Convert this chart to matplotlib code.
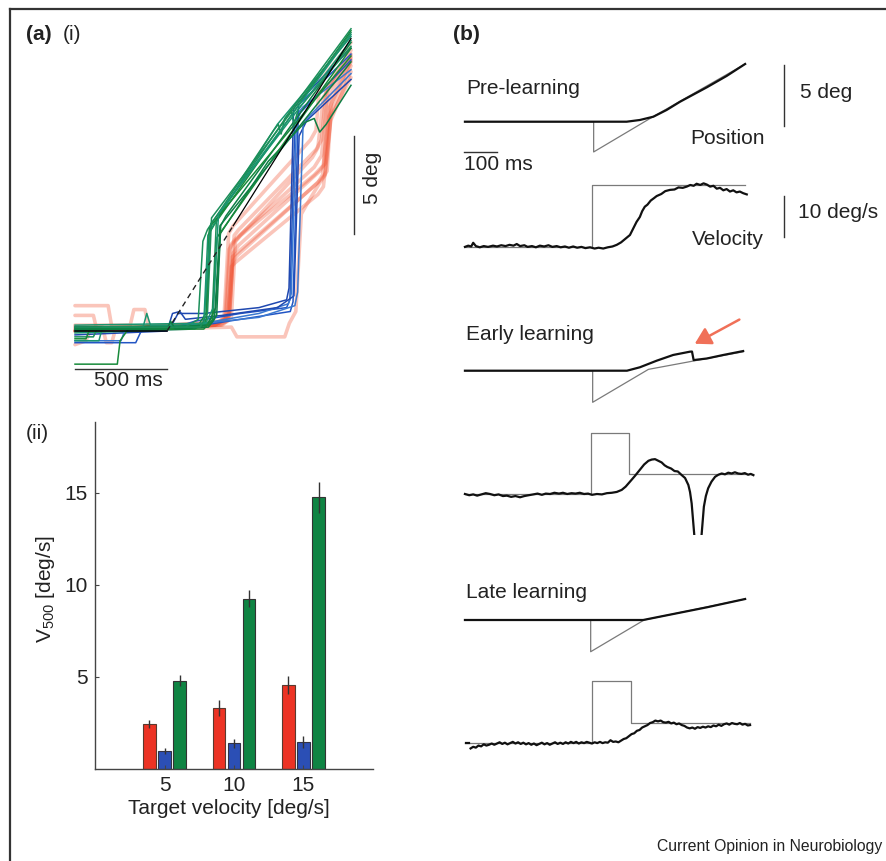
import matplotlib
matplotlib.use("Agg")
import matplotlib.pyplot as plt
from matplotlib.lines import Line2D
from matplotlib.patches import FancyArrowPatch

plt.rcParams['font.family'] = ['Liberation Sans', 'DejaVu Sans']

# ---------------- DATA ----------------
# (a)(ii) bar chart
target_velocity = [5, 10, 15]
v500_red = [2.45, 3.3, 4.55]
v500_red_err = [0.2, 0.43, 0.5]
v500_blue = [0.98, 1.4, 1.45]
v500_blue_err = [0.18, 0.25, 0.32]
v500_green = [4.8, 9.25, 14.75]
v500_green_err = [0.3, 0.45, 0.83]
bar_yticks = [5, 10, 15]

# (a)(i) position traces: (time ms, position deg)
target_a = [(0, 0.0), (500, 0.0), (1500, 15.0)]
target_a_dash_end = 860

red_traces = [
    [(0, 0.0), (760, 0.3), (820, 0.6), (845, 4.4), (870, 4.7), (1300, 8.4), (1340, 9.0), (1375, 12.5), (1500, 14.4)],
    [(0, 1.3), (180, 1.3), (200, 0.2), (780, 0.4), (830, 0.7), (855, 3.8), (880, 4.0), (1320, 7.6), (1345, 8.0), (1385, 11.5), (1500, 13.8)],
    [(0, 0.8), (100, 0.8), (120, 0.0), (790, 0.5), (840, 0.9), (865, 4.9), (890, 5.2), (1310, 9.3), (1340, 9.8), (1365, 12.4), (1500, 14.2)],
    [(0, -0.7), (60, -0.5), (80, 0.0), (770, 0.3), (830, 0.5), (850, 3.3), (870, 3.5), (1320, 7.0), (1350, 7.4), (1390, 10.8), (1500, 13.3)],
    [(0, 0.3), (300, 0.3), (320, 1.1), (380, 1.1), (400, 0.2), (760, 0.3), (815, 0.6), (838, 4.2), (860, 4.5), (1290, 8.9), (1320, 9.4), (1350, 12.0), (1500, 14.0)],
    [(0, 0.0), (850, 0.2), (880, -0.3), (1140, -0.3), (1165, 0.4), (1200, 1.0), (1230, 6.0), (1260, 6.5), (1330, 7.6), (1360, 8.0), (1390, 11.0), (1500, 13.0)],
    [(0, 0.0), (780, 0.4), (840, 0.8), (860, 4.0), (890, 4.4), (1330, 8.2), (1360, 8.6), (1380, 11.0), (1500, 13.6)],
    [(0, 0.0), (760, 0.3), (810, 0.7), (835, 5.0), (860, 5.4), (1280, 9.8), (1310, 10.3), (1330, 12.8), (1500, 14.8)],
    [(0, 0.1), (800, 0.3), (850, 0.7), (872, 4.6), (900, 4.9), (1300, 8.0), (1350, 8.5), (1380, 12.0), (1500, 14.1)],
    [(0, 0.2), (150, 0.2), (170, -0.6), (200, -0.6), (220, 0.1), (790, 0.3), (835, 0.6), (858, 3.6), (885, 3.9), (1340, 7.8), (1370, 8.2), (1395, 11.8), (1500, 13.9)],
]

blue_traces = [
    [(0, -0.6), (330, -0.6), (360, 0.0), (520, 0.1), (650, 0.5), (900, 0.9), (1150, 1.2), (1168, 1.6), (1195, 10.6), (1225, 11.2), (1500, 13.9)],
    [(0, 0.0), (530, 0.2), (700, 0.4), (1000, 0.9), (1160, 1.4), (1175, 1.9), (1205, 11.1), (1240, 11.5), (1500, 13.4)],
    [(0, -0.2), (500, 0.0), (530, 0.9), (570, 1.0), (600, 0.6), (800, 0.8), (1100, 1.2), (1190, 1.8), (1218, 10.0), (1260, 10.8), (1500, 12.9)],
    [(0, 0.1), (560, 0.1), (900, 0.6), (1170, 1.0), (1185, 1.5), (1215, 11.6), (1500, 14.2)],
    [(0, -0.5), (250, -0.5), (270, 0.0), (600, 0.3), (1000, 0.7), (1195, 1.3), (1210, 2.0), (1240, 10.7), (1500, 13.2)],
    [(0, 0.2), (520, 0.2), (560, 0.9), (700, 0.9), (1000, 1.2), (1150, 1.6), (1163, 2.2), (1188, 11.4), (1220, 11.8), (1500, 14.5)],
]

green_traces = [
    [(0, 0.1), (690, 0.2), (715, 0.6), (735, 5.1), (760, 5.5), (1500, 15.4)],
    [(0, -0.1), (650, 0.1), (700, 0.4), (722, 4.9), (750, 5.4), (1100, 10.6), (1500, 15.1)],
    [(0, 0.2), (730, 0.3), (770, 0.8), (792, 5.4), (820, 5.9), (1500, 14.8)],
    [(0, -0.3), (100, -0.3), (120, 0.1), (700, 0.2), (745, 0.7), (768, 5.6), (800, 6.2), (1150, 11.0), (1175, 11.3), (1190, 10.6), (1215, 11.4), (1500, 14.6)],
    [(0, -1.7), (230, -1.7), (245, -0.5), (290, 0.1), (620, 0.1), (670, 0.3), (712, 0.9), (730, 5.3), (790, 6.0), (1500, 14.1)],
    [(0, -0.5), (130, -0.5), (150, 0.2), (370, 0.2), (390, 0.9), (410, 0.3), (700, 0.3), (738, 5.5), (1500, 14.9)],
    [(0, 0.0), (720, 0.3), (765, 1.2), (790, 5.0), (1050, 8.7), (1250, 10.7), (1300, 10.9), (1330, 10.2), (1365, 10.6), (1500, 12.6)],
    [(0, 0.1), (600, 0.2), (670, 0.6), (695, 4.6), (720, 5.2), (1080, 10.3), (1105, 10.6), (1120, 10.1), (1140, 10.9), (1500, 15.5)],
    [(0, -0.4), (60, -0.4), (80, 0.1), (700, 0.1), (748, 0.6), (772, 4.8), (1500, 14.5)],
    [(0, 0.3), (710, 0.4), (752, 1.2), (780, 6.0), (1500, 15.2)],
    [(0, 0.1), (500, 0.1), (520, 0.5), (545, 0.1), (725, 0.2), (758, 0.6), (788, 5.4), (1500, 13.8)],
    [(0, 0.2), (680, 0.2), (720, 0.9), (742, 5.8), (1500, 15.3)],
]
green_colors = ['#178a3a', '#1a9570', '#0e7f45', '#1c8f5a']
blue_colors = ['#2255c4', '#3a78d0', '#1f48b0']

# (b) traces: (time ms relative to target motion onset, value)
pre_pos_eye = [(-385, 0.0), (105, 0.0), (145, 0.14), (186, 0.41), (226, 0.96), (267, 1.64), (348, 2.82), (408, 3.75), (464, 4.73)]
pre_pos_target = [(-385, 0.0), (5, 0.0), (5, -2.48), (185, 0.41), (464, 4.73)]
pre_vel_eye = [(-385, 0.1), (-375, 0.4), (-366, 0.2), (-360, 1.1), (-352, 0.3), (-340, 0.0), (-328, 0.3), (-315, 0.1),
               (-300, 0.4), (-288, 0.2), (-275, 0.5), (-262, 0.3), (-250, 0.6), (-238, 0.4), (-228, 0.8), (-218, 0.3),
               (-205, 0.5), (-195, 0.1), (-182, 0.3), (-170, 0.0), (-158, 0.4), (-145, 0.2), (-132, 0.5), (-120, 0.1),
               (-107, 0.3), (-95, 0.0), (-82, 0.2), (-70, -0.1), (-57, 0.2), (-45, -0.1), (-32, 0.1), (-20, -0.2),
               (-6, 0.0), (8, -0.3), (20, -0.1), (34, -0.3), (48, 0.0), (62, 0.2), (75, 0.6), (88, 1.2), (100, 2.0),
               (115, 3.0), (125, 4.6), (135, 6.2), (145, 7.4), (152, 8.8), (160, 9.9), (168, 10.4), (178, 11.4),
               (188, 12.0), (196, 12.5), (210, 13.0), (222, 13.7), (236, 14.0), (250, 14.1), (262, 14.6), (275, 14.5),
               (287, 14.8), (298, 15.2), (308, 15.0), (317, 15.5), (328, 15.2), (338, 15.6), (348, 15.3), (358, 14.8),
               (368, 15.0), (378, 14.3), (388, 14.5), (398, 13.9), (408, 14.2), (418, 13.6), (428, 13.9), (438, 13.4),
               (448, 13.6), (458, 13.2), (469, 12.9)]
pre_vel_target = [(-385, 0.0), (0, 0.0), (0, 15.3), (464, 15.3)]

early_pos_eye = [(-385, 0.0), (106, 0.0), (145, 0.28), (196, 0.82), (246, 1.29), (297, 1.56), (303, 1.57), (308, 0.87),
                 (348, 1.0), (398, 1.29), (458, 1.61)]
early_pos_target = [(-385, 0.0), (2, 0.0), (2, -2.59), (171, 0.11), (458, 1.55)]
early_vel_eye = [(-385, 0.0), (-372, -0.3), (-360, -0.1), (-348, -0.4), (-335, -0.1), (-322, 0.2), (-309, 0.0), (-296, -0.3),
                 (-283, -0.1), (-270, -0.5), (-258, -0.4), (-245, -0.7), (-232, -0.5), (-218, -0.8), (-205, -0.5),
                 (-192, -0.3), (-178, -0.1), (-165, 0.1), (-152, -0.2), (-140, 0.1), (-127, 0.0), (-114, 0.3),
                 (-100, 0.1), (-88, 0.3), (-75, 0.0), (-62, 0.2), (-50, 0.1), (-37, 0.3), (-24, 0.0), (-12, 0.1),
                 (0, -0.2), (15, 0.0), (30, -0.1), (45, 0.2), (60, 0.3), (75, 0.5), (90, 1.0), (102, 1.8), (115, 3.0),
                 (130, 4.4), (145, 5.9), (158, 7.2), (171, 8.1), (181, 8.4), (191, 8.5), (201, 8.1), (211, 7.7),
                 (220, 7.0), (228, 6.6), (240, 6.2), (250, 5.6), (260, 5.5), (272, 4.6), (282, 3.9), (292, 2.2),
                 (297, 0.5), (302, -2.3), (311, -11.0), (321, -21.0), (330, -12.0), (339, -3.1), (345, -0.5),
                 (352, 1.4), (362, 3.0), (373, 4.2), (383, 4.7), (393, 5.0), (403, 4.8), (413, 5.2), (423, 5.0),
                 (433, 5.3), (443, 5.0), (453, 4.9), (463, 5.1), (473, 4.7), (481, 4.9), (489, 4.6)]
early_vel_target = [(-385, 0.0), (-4, 0.0), (-4, 15.0), (111, 15.0), (111, 4.8), (489, 4.8)]

late_pos_eye = [(-385, 0.0), (155, 0.0), (246, 0.49), (348, 1.04), (464, 1.72)]
late_pos_target = [(-385, 0.0), (-4, 0.0), (-4, -2.6), (158, 0.0), (464, 1.72)]
late_vel_eye_start = [(-382, 0.0), (-373, 0.0)]
late_vel_eye = [(-368, -1.4), (-360, -1.0), (-352, -1.2), (-344, -0.7), (-336, -0.9), (-328, -0.4), (-320, -0.7),
                (-312, -0.5), (-304, -0.2), (-296, -0.5), (-288, -0.2), (-280, 0.1), (-272, -0.3), (-264, 0.0),
                (-256, -0.4), (-248, -0.1), (-240, 0.2), (-232, -0.2), (-224, 0.1), (-216, -0.3), (-208, 0.0),
                (-200, -0.4), (-192, -0.1), (-184, -0.5), (-176, -0.2), (-168, -0.6), (-160, -0.3), (-152, 0.0),
                (-144, -0.4), (-136, -0.1), (-128, -0.5), (-120, -0.2), (-112, 0.1), (-104, -0.3), (-96, 0.0),
                (-88, -0.3), (-80, 0.1), (-72, -0.2), (-64, 0.2), (-56, -0.1), (-48, 0.2), (-40, -0.2), (-32, 0.1),
                (-24, -0.1), (-16, 0.2), (-8, 0.0), (0, -0.2), (8, 0.1), (16, -0.1), (24, 0.2), (32, -0.1), (40, 0.1),
                (48, 0.0), (56, 0.6), (64, 0.2), (72, 0.3), (80, 0.1), (88, 0.5), (96, 0.9), (104, 1.1), (112, 1.6),
                (120, 2.1), (128, 2.3), (136, 2.9), (144, 3.1), (152, 3.7), (160, 4.0), (168, 4.3), (176, 4.8),
                (184, 5.0), (192, 5.4), (200, 5.2), (208, 5.4), (216, 5.0), (224, 4.9), (232, 5.1), (240, 4.7),
                (248, 4.9), (256, 4.5), (264, 4.7), (272, 4.3), (280, 4.1), (288, 3.7), (296, 3.5), (304, 3.7),
                (312, 3.4), (320, 3.8), (328, 3.6), (336, 3.9), (344, 3.7), (352, 4.0), (360, 3.8), (368, 4.2),
                (376, 4.0), (384, 4.4), (392, 4.1), (400, 4.5), (408, 4.7), (416, 4.4), (424, 4.8), (432, 4.6),
                (440, 4.5), (448, 4.8), (456, 4.4), (464, 4.6), (472, 4.2), (479, 4.3)]
late_vel_target = [(-385, 0.0), (-1, 0.0), (-1, 15.1), (117, 15.1), (117, 4.9), (479, 4.9)]

# ---------------- FIGURE ----------------
W, H = 887, 861
fig = plt.figure(figsize=(W / 100, H / 100), dpi=100)
fig.patch.set_facecolor('white')
TXT = '#222222'
FS = 15


def add_ax(x0, x1, y0, y1):
    a = fig.add_axes([x0 / W, 1 - y1 / H, (x1 - x0) / W, (y1 - y0) / H])
    return a


def ftext(x, y, s, **kw):
    kw.setdefault('color', TXT)
    kw.setdefault('fontsize', FS)
    kw.setdefault('va', 'center')
    fig.text(x / W, 1 - y / H, s, **kw)


def xy(pts):
    return [p[0] for p in pts], [p[1] for p in pts]


# frame
fig.add_artist(Line2D([10 / W, 1.0], [1 - 8.5 / H, 1 - 8.5 / H], color='#333333', lw=1.6))
fig.add_artist(Line2D([10 / W, 10 / W], [1 - 8.5 / H, 0.0], color='#333333', lw=1.6))

# ---- (a)(i) traces ----
px_ms, px_deg = 0.184, 19.5
ox, oy = 75, 331
axa = add_ax(60, 440, 20, 400)
axa.set_xlim((60 - ox) / px_ms, (440 - ox) / px_ms)
axa.set_ylim((oy - 400) / px_deg, (oy - 20) / px_deg)
axa.axis('off')
for tr in red_traces:
    xs, ys = xy(tr)
    axa.plot(xs, ys, color='#f05030', alpha=0.33, lw=2.6, solid_capstyle='round')
for i, tr in enumerate(blue_traces):
    xs, ys = xy(tr)
    axa.plot(xs, ys, color=blue_colors[i % 3], lw=1.1)
for i, tr in enumerate(green_traces):
    xs, ys = xy(tr)
    axa.plot(xs, ys, color=green_colors[i % 4], lw=1.1)
# target
axa.plot([target_a[0][0], target_a[1][0]], [target_a[0][1], target_a[1][1]], color='black', lw=1.1)
slope = (target_a[2][1] - target_a[1][1]) / (target_a[2][0] - target_a[1][0])
yd = target_a[1][1] + slope * (target_a_dash_end - target_a[1][0])
axa.plot([target_a[1][0], target_a_dash_end], [target_a[1][1], yd], color='#222222', lw=1.0, ls=(0, (4, 3)))
axa.plot([target_a_dash_end, target_a[2][0]], [yd, target_a[2][1]], color='black', lw=0.9)
# scale bars
axa.plot([0, 500], [-1.95, -1.95], color='#333333', lw=1.0)
axa.plot([1516, 1516], [5.0, 10.0], color='#333333', lw=1.0)
ftext(128, 381, '500 ms', ha='center')
ftext(373, 178, '5 deg', ha='center', rotation=90)
ftext(26, 34, '(a)', fontweight='bold')
ftext(63, 34, '(i)')

# ---- (a)(ii) bars ----
axb = add_ax(95, 373, 422, 769)
bw, off = 0.92, 1.08
ek = dict(ecolor='#333333', elinewidth=1.0, capsize=0)
axb.bar([v - off for v in target_velocity], v500_red, bw, yerr=v500_red_err, color='#ec3324',
        edgecolor='#5a3a30', linewidth=0.8, error_kw=ek)
axb.bar(target_velocity, v500_blue, bw, yerr=v500_blue_err, color='#2b4fb5',
        edgecolor='#333344', linewidth=0.8, error_kw=ek)
axb.bar([v + off for v in target_velocity], v500_green, bw, yerr=v500_green_err, color='#0f8443',
        edgecolor='#333333', linewidth=0.8, error_kw=ek)
axb.set_xlim(0, 20)
axb.set_ylim(0, 18.85)
axb.set_xticks(target_velocity)
axb.set_yticks(bar_yticks)
axb.spines['top'].set_visible(False)
axb.spines['right'].set_visible(False)
for s in ('left', 'bottom'):
    axb.spines[s].set_color('#444444')
    axb.spines[s].set_linewidth(1.0)
axb.tick_params(direction='in', length=3, width=0.8, colors='#444444', labelsize=FS,
                labelcolor=TXT, pad=5)
axb.set_ylabel('V$_{\\mathregular{500}}$ [deg/s]', fontsize=FS, color=TXT)
axb.yaxis.set_label_coords(-0.137, 0.52)
axb.set_xlabel('Target velocity [deg/s]', fontsize=FS, color=TXT)
axb.xaxis.set_label_coords(0.482, -0.086)
ftext(26, 434, '(ii)')

# ---- (b) traces ----
bx0, bx1, t0px, px_ms_b = 460, 880, 592, 0.33
px_pos, px_vel = 12.2, 4.1


def b_ax(y0, y1, base, ppu):
    a = add_ax(bx0, bx1, y0, y1)
    a.set_xlim((bx0 - t0px) / px_ms_b, (bx1 - t0px) / px_ms_b)
    a.set_ylim((base - y1) / ppu, (base - y0) / ppu)
    a.axis('off')
    return a


def draw(a, eye, target):
    xs, ys = xy(target)
    a.plot(xs, ys, color='#7a7a7a', lw=0.9)
    xs, ys = xy(eye)
    a.plot(xs, ys, color='#111111', lw=1.6)


a1 = b_ax(40, 170, 121.7, px_pos)
draw(a1, pre_pos_eye, pre_pos_target)
a1.plot([582, 582], [-0.35, 4.65], color='#333333', lw=1.0)
a1.plot([-388, -288], [-2.48, -2.48], color='#333333', lw=1.0)

a2 = b_ax(170, 270, 247.3, px_vel)
draw(a2, pre_vel_eye, pre_vel_target)
a2.plot([582, 582], [2.5, 12.5], color='#333333', lw=1.0)

a3 = b_ax(300, 415, 370.7, px_pos)
draw(a3, early_pos_eye, early_pos_target)
arr = FancyArrowPatch((454, 4.3), (304, 2.1), arrowstyle='-|>,head_length=6,head_width=3.5',
                      color='#f07058', lw=1.8, mutation_scale=1.6, clip_on=False)
a3.add_patch(arr)

a4 = b_ax(415, 535, 494, px_vel)
draw(a4, early_vel_eye, early_vel_target)

a5 = b_ax(570, 665, 620, px_pos)
draw(a5, late_pos_eye, late_pos_target)

a6 = b_ax(665, 790, 742.7, px_vel)
draw(a6, late_vel_eye, late_vel_target)
xs, ys = xy(late_vel_eye_start)
a6.plot(xs, ys, color='#111111', lw=1.6)

ftext(453, 35, '(b)', fontweight='bold')
ftext(466, 89, 'Pre-learning')
ftext(800, 92, '5 deg')
ftext(728, 139, 'Position', ha='center')
ftext(464, 165, '100 ms')
ftext(798, 213, '10 deg/s')
ftext(728, 240, 'Velocity', ha='center')
ftext(466, 335, 'Early learning')
ftext(466, 592, 'Late learning')
ftext(882, 847, 'Current Opinion in Neurobiology', ha='right', fontsize=11.3)

fig.savefig('out.png', dpi=100, facecolor='white')
